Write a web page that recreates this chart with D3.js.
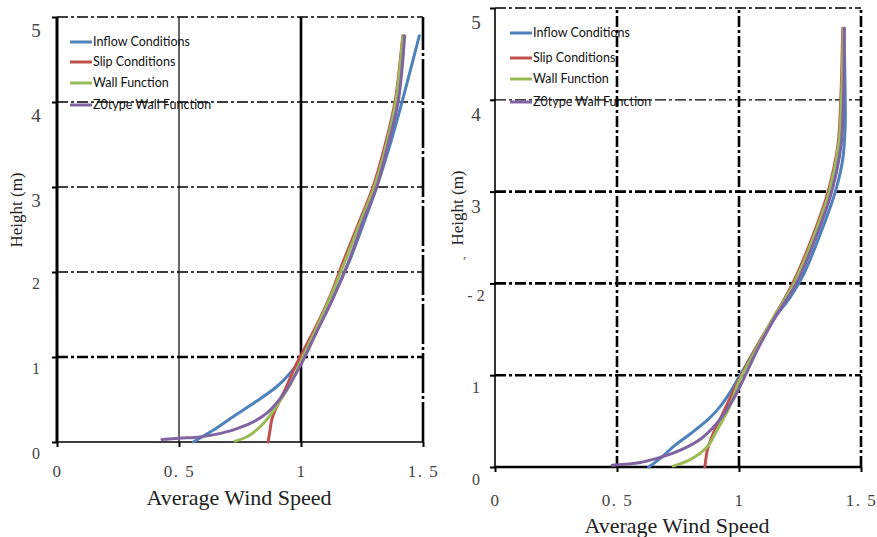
<!DOCTYPE html>
<html>
<head>
<meta charset="utf-8">
<script src="https://cdn.jsdelivr.net/npm/d3@7"></script>
<style>
  body { margin: 0; background: #fff; }
  svg { display: block; }
</style>
</head>
<body>
<div id="main"></div>
<script>
// series names and colours (legend order)
const seriesNames = ["Inflow Conditions", "Slip  Conditions", "Wall Function", "Z0type Wall Function"];
const seriesColors = ["#4f81bd", "#c0504d", "#9bbb59", "#8064a2"];

// tick values
const xTicks = [0, 0.5, 1, 1.5];
const xTickLabels = ["0", "0. 5", "1", "1. 5"];
const yTicks = [0, 1, 2, 3, 4, 5];

// left chart: [speed, height]
const leftInflow = [[0.559,0.0],[0.641,0.14],[0.723,0.30],[0.805,0.455],[0.90,0.65],[0.955,0.81],[0.996,0.965],[1.06,1.3],[1.13,1.7],[1.20,2.14],[1.26,2.6],[1.31,3.0],[1.365,3.5],[1.414,4.0],[1.485,4.78]];
const leftSlip = [[0.865,0.0],[0.872,0.12],[0.88,0.26],[0.895,0.38],[0.915,0.5],[0.94,0.65],[0.97,0.85],[0.996,1.0],[1.06,1.35],[1.12,1.72],[1.17,2.1],[1.24,2.6],[1.295,3.0],[1.345,3.5],[1.385,4.0],[1.417,4.78]];
const leftWall = [[0.73,0.01],[0.77,0.05],[0.80,0.1],[0.84,0.2],[0.87,0.3],[0.915,0.49],[0.96,0.7],[1.0,0.95],[1.06,1.32],[1.12,1.7],[1.18,2.12],[1.245,2.6],[1.30,3.0],[1.35,3.5],[1.388,4.0],[1.418,4.78]];
const leftZ0 = [[0.43,0.03],[0.50,0.045],[0.586,0.06],[0.65,0.09],[0.72,0.14],[0.80,0.23],[0.86,0.34],[0.93,0.57],[0.996,0.89],[1.06,1.27],[1.13,1.68],[1.195,2.12],[1.255,2.6],[1.31,3.0],[1.357,3.5],[1.398,4.0],[1.425,4.78]];

// right chart: [speed, height]
const rightInflow = [[0.63,0.0],[0.68,0.1],[0.73,0.22],[0.80,0.36],[0.87,0.51],[0.92,0.65],[0.96,0.8],[1.0,0.98],[1.07,1.3],[1.145,1.62],[1.21,1.85],[1.265,2.1],[1.335,2.55],[1.395,3.0],[1.425,3.35],[1.435,3.7],[1.435,4.1],[1.43,4.78]];
const rightSlip = [[0.86,0.0],[0.865,0.1],[0.87,0.18],[0.895,0.37],[0.935,0.59],[1.0,0.95],[1.07,1.3],[1.14,1.62],[1.22,2.0],[1.30,2.5],[1.365,3.0],[1.405,3.5],[1.417,4.0],[1.425,4.78]];
const rightWall = [[0.73,0.01],[0.80,0.08],[0.87,0.22],[0.91,0.4],[0.96,0.65],[1.0,0.93],[1.07,1.28],[1.14,1.62],[1.225,2.0],[1.305,2.5],[1.37,3.0],[1.408,3.5],[1.42,4.0],[1.428,4.78]];
const rightZ0 = [[0.48,0.02],[0.595,0.05],[0.67,0.1],[0.73,0.15],[0.84,0.3],[0.91,0.48],[0.975,0.73],[1.01,0.91],[1.08,1.3],[1.15,1.64],[1.235,2.0],[1.315,2.5],[1.38,3.0],[1.418,3.5],[1.428,4.0],[1.432,4.78]];

const SERIF = '"Liberation Serif"';
const SANS = '"Lato"';
const DASH = "11,3,3,3";

function drawPanel(svg, cfg) {
    const x = d3.scaleLinear().domain([0, 1.5]).range([cfg.x0, cfg.x1]);
    const y = d3.scaleLinear().domain([0, 5]).range([cfg.y0, cfg.y1]);
    const g = svg.append("g");

    // grid lines
    xTicks.forEach((v, i) => {
        const s = cfg.vStyle[i];
        g.append("line")
            .attr("x1", x(v)).attr("x2", x(v))
            .attr("y1", y(0)).attr("y2", y(5))
            .attr("stroke", "#000")
            .attr("stroke-width", s.w)
            .attr("stroke-dasharray", s.dash || null);
    });
    yTicks.forEach((v, i) => {
        const s = cfg.hStyle[i];
        g.append("line")
            .attr("x1", x(0)).attr("x2", x(1.5))
            .attr("y1", y(v)).attr("y2", y(v))
            .attr("stroke", "#000")
            .attr("stroke-width", s.w)
            .attr("stroke-dasharray", s.dash || null);
    });

    // axes
    const ax = g.append("g")
        .attr("transform", `translate(0,${y(0)})`)
        .call(d3.axisBottom(x).tickValues(xTicks).tickSize(5).tickPadding(cfg.xPad)
            .tickFormat((d, i) => xTickLabels[i]));
    const ay = g.append("g")
        .attr("transform", `translate(${x(0)},0)`)
        .call(d3.axisLeft(y).tickValues(yTicks).tickSize(5).tickPadding(cfg.yPad)
            .tickFormat((d) => (cfg.dashTwo && d === 2) ? "- 2" : d));
    [ax, ay].forEach(a => {
        a.select(".domain").remove();
        a.selectAll(".tick line").attr("stroke", "#000").attr("stroke-width", 2);
        a.selectAll("text")
            .attr("fill", "#444")
            .style("font-family", SERIF)
            .style("font-size", "16px");
    });
    ax.selectAll("text").style("font-size", "17px").style("letter-spacing", "1.5px");
    ay.selectAll("text").attr("dy", cfg.yDy).attr("text-anchor", "middle");
    ay.selectAll(".tick").filter(d => d >= 3).selectAll("text").style("font-size", "19px");

    // curves
    const line = d3.line()
        .x(d => x(d[0]))
        .y(d => y(d[1]))
        .curve(d3.curveCatmullRom.alpha(0.5));
    cfg.series.forEach((s, i) => {
        g.append("path")
            .datum(s)
            .attr("fill", "none")
            .attr("stroke", seriesColors[i])
            .attr("stroke-width", 3)
            .attr("stroke-linecap", "round")
            .attr("d", line);
    });

    // legend
    seriesNames.forEach((name, i) => {
        const ly = cfg.legY[i];
        g.append("line")
            .attr("x1", cfg.legX).attr("x2", cfg.legX + 22)
            .attr("y1", ly).attr("y2", ly)
            .attr("stroke", seriesColors[i]).attr("stroke-width", 3);
        g.append("text")
            .attr("x", cfg.legX + 23).attr("y", ly + 4)
            .attr("fill", "#111")
            .style("font-family", SANS)
            .style("font-size", "12.5px")
            .text(name);
    });

    // axis titles
    g.append("text")
        .attr("x", (x(0) + x(1.5)) / 2 - 1)
        .attr("y", cfg.titleY)
        .attr("text-anchor", "middle")
        .attr("fill", "#222")
        .style("font-family", SERIF)
        .style("font-size", "22px")
        .text("Average Wind Speed");
    g.append("text")
        .attr("transform", `translate(${cfg.yTitleX},${cfg.yTitleY}) rotate(-90)`)
        .attr("text-anchor", "middle")
        .attr("fill", "#222")
        .style("font-family", SERIF)
        .style("font-size", "17px")
        .text("Height (m)");
}

const svg = d3.select("#main").append("svg")
    .attr("width", 877)
    .attr("height", 537);

const thin = { w: 1.3, dash: DASH };
const thick = { w: 2.6, dash: DASH };

drawPanel(svg, {
    x0: 57, x1: 423, y0: 442, y1: 17,
    vStyle: [{ w: 3 }, { w: 1.2 }, { w: 2.6 }, { w: 2.6, dash: "40,3,3,3" }],
    hStyle: [{ w: 1.5 }, thick, thin, thin, thin, thin],
    xPad: 18, yPad: 16, yDy: "1.05em",
    series: [leftInflow, leftSlip, leftWall, leftZ0],
    legX: 70, legY: [42, 62, 83, 105],
    titleY: 505, yTitleX: 22, yTitleY: 210
});

drawPanel(svg, {
    x0: 495, x1: 861, y0: 467, y1: 8,
    vStyle: [{ w: 1.6 }, thick, thick, thick],
    hStyle: [{ w: 2.5 }, thick, thick, thick, thin, thin],
    xPad: 22, yPad: 14, yDy: "1.1em",
    series: [rightInflow, rightSlip, rightWall, rightZ0],
    legX: 510, legY: [33, 58, 79, 102],
    titleY: 533, yTitleX: 463, yTitleY: 208,
    dashTwo: true
});

// small stray mark left of the right chart's y title
svg.append("text")
    .attr("x", 463).attr("y", 258)
    .attr("fill", "#555")
    .style("font-family", SERIF)
    .style("font-size", "12px")
    .text(",");
</script>
</body>
</html>
